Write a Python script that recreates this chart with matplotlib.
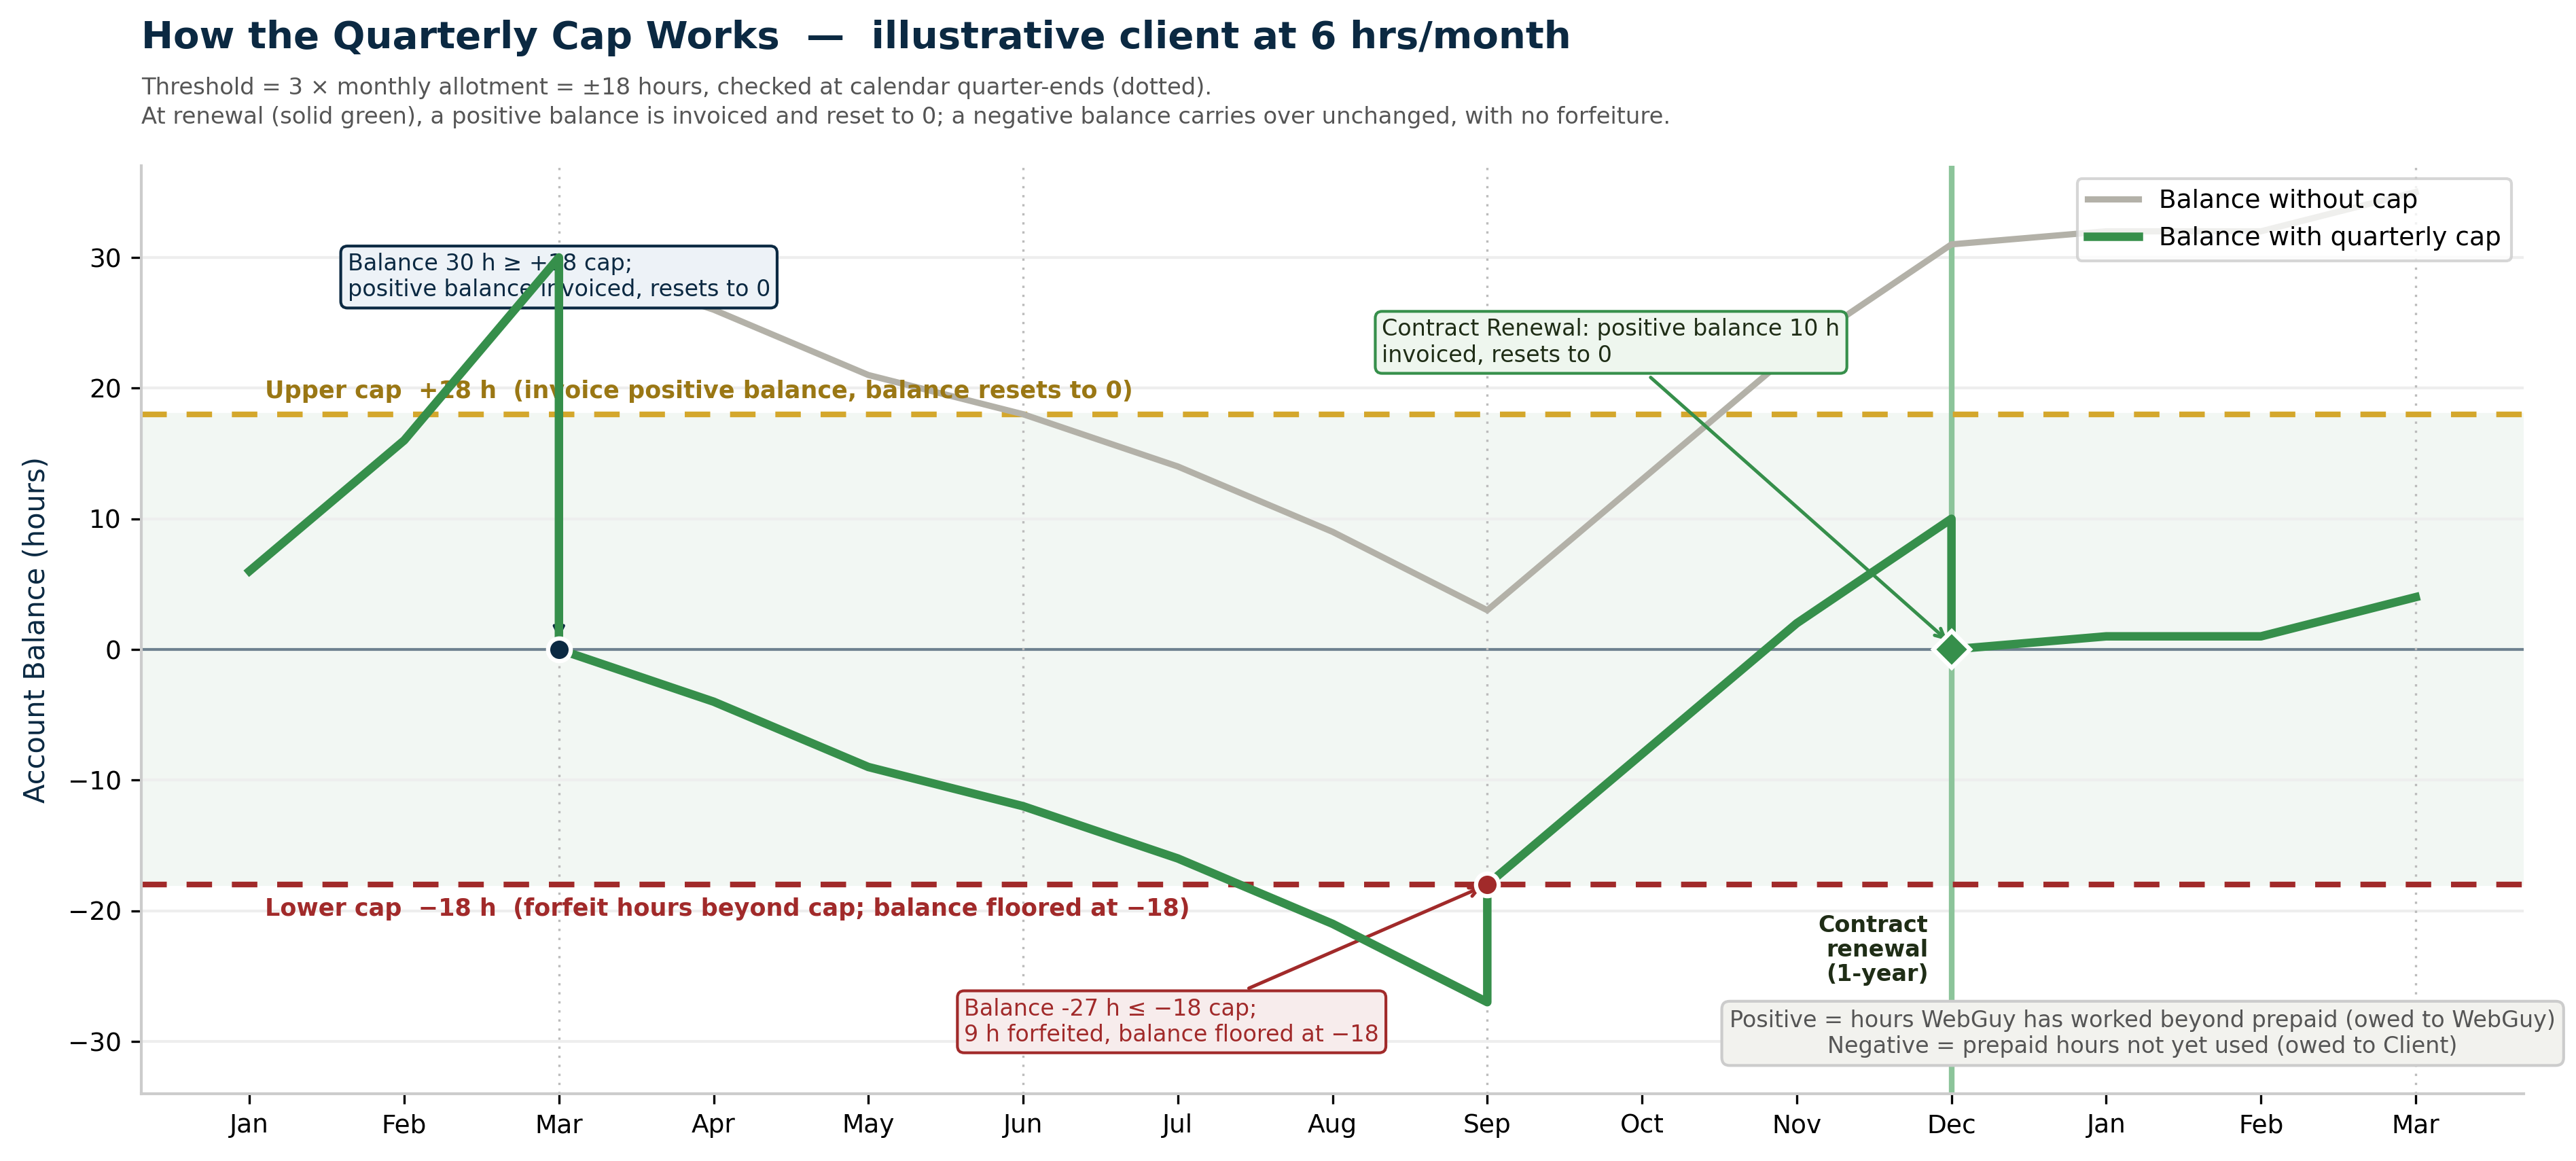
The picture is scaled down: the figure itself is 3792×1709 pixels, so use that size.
import matplotlib
matplotlib.use("Agg")
import matplotlib.pyplot as plt

# month labels (15 months: Jan .. Mar of next year)
months = ["Jan", "Feb", "Mar", "Apr", "May", "Jun", "Jul", "Aug", "Sep",
          "Oct", "Nov", "Dec", "Jan", "Feb", "Mar"]
month_idx = list(range(len(months)))

# balance if no cap was applied
balance_nocap = [6, 16, 30, 26, 21, 18, 14, 9, 3, 13, 23, 31, 32, 32, 35]

# balance with quarterly cap (repeated x = vertical reset / floor steps)
cap_x = [0, 1, 2, 2, 3, 4, 5, 6, 7, 8, 8, 9, 10, 11, 11, 12, 13, 14]
cap_y = [6, 16, 30, 0, -4, -9, -12, -16, -21, -27, -18, -8, 2, 10, 0, 1, 1, 4]

cap_limit = 18
quarter_ends = [2, 5, 8, 11, 14]
renewal_month = 11

# colours
NAVY = "#0b2942"
GREEN = "#368f4b"
GREY_LINE = "#b3b1a8"
GOLD = "#d4a72c"
GOLD_TXT = "#9a7714"
RED = "#a12a2a"

fig = plt.figure(figsize=(12.64, 5.697), dpi=300)
ax = fig.add_axes([0.0548, 0.058, 0.925, 0.799])

# band between caps
ax.axhspan(-cap_limit, cap_limit, color="#f2f7f3", zorder=0)
ax.axhline(cap_limit, color=GOLD, lw=2, ls=(0, (4.5, 3.5)), zorder=2)
ax.axhline(-cap_limit, color=RED, lw=2, ls=(0, (4.5, 3.5)), zorder=2)
ax.axhline(0, color="#6f8290", lw=1, zorder=1)

for q in quarter_ends:
    ax.axvline(q, color="#bbbbbb", lw=0.8, ls=(0, (1, 3)), zorder=1)
ax.axvline(renewal_month, color="#8cc49a", lw=2, zorder=1)

# lines
ax.plot(month_idx, balance_nocap, color=GREY_LINE, lw=2.2, zorder=2,
        label="Balance without cap")
ax.plot(cap_x, cap_y, color=GREEN, lw=3, zorder=4,
        label="Balance with quarterly cap")

# markers at the events
ax.plot(2, 0, "o", ms=8, color=NAVY, mec="white", mew=1.5, zorder=6)
ax.plot(8, -cap_limit, "o", ms=8, color=RED, mec="white", mew=1.5, zorder=6)
ax.plot(renewal_month, 0, "D", ms=9, color=GREEN, mec="white", mew=1.5, zorder=6)

# cap labels
ax.text(0.1, 18.9, "Upper cap  +18 h  (invoice positive balance, balance resets to 0)",
        color=GOLD_TXT, fontsize=8.4, fontweight="bold", va="bottom", ha="left")
ax.text(0.1, -19.0, "Lower cap  \u221218 h  (forfeit hours beyond cap; balance floored at \u221218)",
        color=RED, fontsize=8.4, fontweight="bold", va="top", ha="left")

ax.text(10.85, -20.3, "Contract\nrenewal\n(1-year)", color="#1f2d16",
        fontsize=8, fontweight="bold", ha="right", va="top", linespacing=1.1)

# annotations
ax.annotate("Balance 30 h \u2265 +18 cap;\npositive balance invoiced, resets to 0",
            xy=(2, 0.4), xytext=(2, 28.5), ha="center", va="center",
            multialignment="left", fontsize=8, color=NAVY, zorder=3,
            bbox=dict(boxstyle="round,pad=0.3", fc="#edf2f7", ec=NAVY, lw=1),
            arrowprops=dict(arrowstyle="->", color=NAVY, lw=1.2))

ax.annotate("Contract Renewal: positive balance 10 h\ninvoiced, resets to 0",
            xy=(renewal_month, 0.4), xytext=(8.8, 23.5), ha="center", va="center",
            multialignment="left", fontsize=8, color="#1f2d16", zorder=3,
            bbox=dict(boxstyle="round,pad=0.3", fc="#eef6ee", ec=GREEN, lw=1),
            arrowprops=dict(arrowstyle="->", color=GREEN, lw=1.2))

ax.annotate("Balance -27 h \u2264 \u221218 cap;\n9 h forfeited, balance floored at \u221218",
            xy=(8, -cap_limit), xytext=(5.96, -28.5), ha="center", va="center",
            multialignment="left", fontsize=8, color=RED, zorder=3,
            bbox=dict(boxstyle="round,pad=0.3", fc="#f7ecec", ec=RED, lw=1),
            arrowprops=dict(arrowstyle="->", color=RED, lw=1.2))

ax.text(0.84, 0.065,
        "Positive = hours WebGuy has worked beyond prepaid (owed to WebGuy)\n"
        "Negative = prepaid hours not yet used (owed to Client)",
        transform=ax.transAxes, ha="center", va="center", fontsize=8,
        color="#555555", multialignment="center", zorder=7,
        bbox=dict(boxstyle="round,pad=0.35", fc="#f2f2ee", ec="#cccccc", lw=1))

# axes styling
ax.set_xlim(-0.7, 14.7)
ax.set_ylim(-34, 37)
ax.set_xticks(month_idx)
ax.set_xticklabels(months)
ax.set_yticks([-30, -20, -10, 0, 10, 20, 30])
ax.tick_params(axis="both", labelsize=9)
ax.set_ylabel("Account Balance (hours)", fontsize=10, color=NAVY, labelpad=6)
ax.grid(axis="y", color="#eeeeee", lw=1, zorder=0)
ax.set_axisbelow(True)
for s in ["top", "right"]:
    ax.spines[s].set_visible(False)
for s in ["left", "bottom"]:
    ax.spines[s].set_color("#cccccc")
    ax.spines[s].set_linewidth(1)

leg = ax.legend(loc="upper right", fontsize=9, frameon=True, fancybox=True,
                bbox_to_anchor=(1.0, 1.0))
leg.get_frame().set_edgecolor("#cccccc")
leg.set_zorder(8)

fig.text(0.0548, 0.967, "How the Quarterly Cap Works  \u2014  illustrative client at 6 hrs/month",
         fontsize=13.5, fontweight="bold", color=NAVY, va="center", ha="left")
fig.text(0.0548, 0.934,
         "Threshold = 3 \u00d7 monthly allotment = \u00b118 hours, checked at calendar quarter-ends (dotted).\n"
         "At renewal (solid green), a positive balance is invoiced and reset to 0; a negative balance carries over unchanged, with no forfeiture.",
         fontsize=8.1, color="#555555", va="top", ha="left", linespacing=1.4)

fig.savefig("out.png", dpi=300)
